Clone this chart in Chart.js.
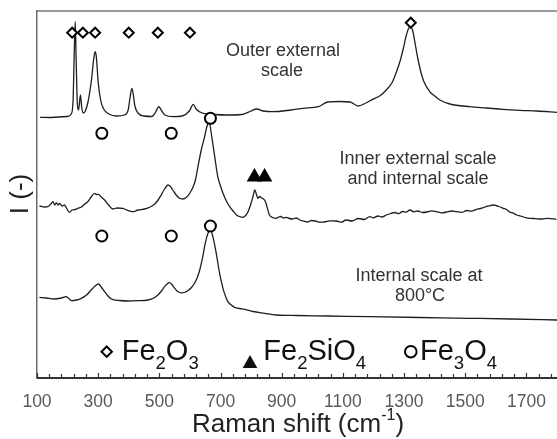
<!DOCTYPE html>
<html>
<head>
<meta charset="utf-8">
<script src="https://cdn.jsdelivr.net/npm/chart.js@4.4.0/dist/chart.umd.min.js"></script>
<style>
  body { margin: 0; background: #fff; }
  .wrap { position: relative; width: 557px; height: 439px; }
</style>
</head>
<body>
<div class="wrap"><canvas id="raman"></canvas></div>
<script>
"use strict";

// x tick labels (cm-1)
const xTicks = [100, 300, 500, 700, 900, 1100, 1300, 1500, 1700];

// Outer external scale
const outerShift = [110,140,170,200,212,218,222,225,228,232,236,242,246,251,258,268,278,285,290,294,300,308,318,335,360,385,398,404,410,414,420,430,450,475,488,498,506,518,545,575,598,611,620,640,680,720,770,800,818,840,870,930,970,1020,1050,1090,1124,1150,1175,1197,1220,1242,1262,1275,1288,1298,1306,1314,1322,1330,1337,1346,1355,1364,1384,1400,1417,1450,1515,1570,1623,1680,1734,1800];
const outerInt = [260.7,260.5,261,261.5,264,278,328,356.3,318,274,268,283,271,265,267,278,298,318,326.3,321,296,278,269,264,262,263,268,280,289.7,285,272,265,262,261.5,266,271.3,268,263,261.3,262,267,273.7,269,265,263.5,263,263.5,267,269,267,266.3,268,269.7,271.3,276,276.5,276,272,275,278.7,282,288,296,306,318,330,341,349,351.5,345,333,318,306,297,286.3,282,278,274,271.3,270,268.7,267.7,267,265.7];

// Inner external scale and internal scale
const innerShift = [108,125,135,145,152,158,163,169,174,182,190,198,206,215,225,233,245,256,266,277,288,295,301,310,321,334,348,362,381,397,413,430,452,470,484,496,506,517,528,536,544,555,566,577,588,600,610,618,626,637,648,655,660,663,670,681,691,700,708,719,730,741,752,762,773,782,790,798,806,812,817,822,828,833,840,847,853,860,870,882,890,897,906,915,925,935,947,959,972,985,997,1010,1025,1040,1058,1079,1095,1110,1130,1150,1170,1188,1200,1215,1228,1242,1256,1270,1283,1295,1307,1319,1332,1345,1360,1375,1390,1406,1423,1440,1455,1471,1488,1505,1520,1537,1550,1565,1578,1591,1600,1610,1624,1635,1645,1657,1668,1680,1690,1700,1711,1730,1750,1770,1798];
const innerInt = [172,171,171.3,174,176.3,173,175,173,174.7,172,173,169,165.7,168,168.5,169.7,171,174,176.3,181,184.7,183.5,183.7,181,178,173,169,170,169.7,167.5,166.3,168,169,171,173.7,178,183,189,193,191.5,188,183,179.7,179,180.5,185,191,198,211,228,241.3,251,255,256,244,221.3,201.3,192,184.7,177,171.3,167,163,161.5,160.7,162.5,166.3,173,181.3,188,184,179.7,181.5,180.3,179,176.3,170,163,160.5,159.7,161,161.5,160,160.7,159.5,159,160,158,156.8,156,157.5,157,155.8,156,157.2,157,155.8,158,157,159.5,158.5,161.3,160.2,162,161,163,164.5,165.5,164.3,166.5,165.8,168,166.2,167,165.5,166,167.2,166.3,165.2,166,167,166.3,165.6,167.5,166.8,168.7,169.5,171,172.2,173,172.5,171.5,169.7,168.5,166,164.8,163,162,161,160.2,159.7,159.4,159,159.6,158.7];

// Internal scale at 800°C
const int800Shift = [108,130,157,180,195,204,214,230,245,262,277,290,301,311,321,332,343,370,397,430,463,482,495,507,517,527,533,541,550,560,572,582,593,605,615,624,632,642,650,659,667,675,686,697,708,716,724,735,746,762,779,806,844,882,950,1050,1188,1350,1515,1650,1800];
const int800Int = [80.7,80,79,80,81.3,79.5,77.3,78,79.7,83,88,92,94,90.5,86.3,82,79,77.5,77,77.3,78,80,83,87,91.3,94.5,95.3,93.5,89.7,86.5,85.2,85.5,87.3,90.5,94.7,100.5,108,121.3,134.7,144.7,148.5,141.3,124.7,104.7,89.7,82,76.3,73,70.7,69.5,68.7,66.5,64.7,63,62.5,62,61.3,60.5,59.7,59,58];

// phase markers
const hematiteShift = [215, 250, 290, 400, 495, 600, 1322];
const hematiteInt = [345.3, 345.3, 345.3, 345.3, 345.3, 345.3, 355.3];
const fayaliteShift = [811, 844];
const fayaliteInt = [201, 201];
const magnetiteShift = [312, 539, 667, 312, 539, 667];
const magnetiteInt = [244.7, 244.7, 259.7, 142, 142, 152];

const toPts = (xs, ys) => xs.map((x, i) => ({ x: x, y: ys[i] }));

const FONT = "'Liberation Sans', Arial, sans-serif";

function traceSet(xs, ys) {
  return {
    data: toPts(xs, ys),
    showLine: true,
    borderColor: "#1e1e1e",
    borderWidth: 1.3,
    pointRadius: 0,
    cubicInterpolationMode: "monotone",
    order: 2,
  };
}

function markerSet(xs, ys, style, radius, fill) {
  return {
    data: toPts(xs, ys),
    showLine: false,
    pointStyle: style,
    pointRadius: radius,
    pointBackgroundColor: fill,
    pointBorderColor: "#000",
    pointBorderWidth: 2,
    order: 1,
  };
}

// writes a formula like Fe2O3 with subscripts, returns end x
function drawFormula(ctx, x, y, parts, size) {
  parts.forEach((p) => {
    if (p.sub) {
      ctx.font = (size * 0.64) + "px " + FONT;
      ctx.fillText(p.t, x, y + size * 0.3);
    } else {
      ctx.font = size + "px " + FONT;
      ctx.fillText(p.t, x, y);
    }
    x += ctx.measureText(p.t).width;
  });
  return x;
}

const decor = {
  id: "decor",
  afterDatasetsDraw(chart) {
    const ctx = chart.ctx;
    const a = chart.chartArea;
    const xs = chart.scales.x;
    ctx.save();

    // top frame line
    ctx.strokeStyle = "#7a7a7a";
    ctx.lineWidth = 1.5;
    ctx.beginPath();
    ctx.moveTo(a.left, a.top);
    ctx.lineTo(a.right, a.top);
    ctx.stroke();

    // inward ticks on the bottom axis
    ctx.strokeStyle = "#333";
    ctx.lineWidth = 1.2;
    for (let v = 100; v <= 1800; v += 40) {
      const px = Math.round(xs.getPixelForValue(v)) + 0.5;
      const len = (v - 100) % 200 === 0 ? 5 : 4;
      ctx.beginPath();
      ctx.moveTo(px, a.bottom);
      ctx.lineTo(px, a.bottom - len);
      ctx.stroke();
    }

    // trace labels
    ctx.fillStyle = "#333";
    ctx.font = "18px " + FONT;
    ctx.textAlign = "center";
    ctx.textBaseline = "middle";
    ctx.fillText("Outer external", 283, 51);
    ctx.fillText("scale", 282, 71);
    ctx.fillText("Inner external scale", 418, 159);
    ctx.fillText("and internal scale", 418, 179);
    ctx.fillText("Internal scale at", 419, 276);
    ctx.fillText("800°C", 420, 296);

    // legend row
    ctx.textAlign = "left";
    ctx.textBaseline = "alphabetic";
    ctx.fillStyle = "#111";
    const base = 360;

    ctx.strokeStyle = "#000";
    ctx.lineWidth = 2;
    ctx.beginPath();
    ctx.moveTo(106.7, 346.5);
    ctx.lineTo(111.9, 351.7);
    ctx.lineTo(106.7, 356.9);
    ctx.lineTo(101.5, 351.7);
    ctx.closePath();
    ctx.stroke();
    drawFormula(ctx, 121.7, base, [{ t: "Fe" }, { t: "2", sub: true }, { t: "O" }, { t: "3", sub: true }], 29);

    ctx.beginPath();
    ctx.moveTo(250, 355);
    ctx.lineTo(257.3, 368);
    ctx.lineTo(242.7, 368);
    ctx.closePath();
    ctx.fill();
    drawFormula(ctx, 263.3, base, [{ t: "Fe" }, { t: "2", sub: true }, { t: "SiO" }, { t: "4", sub: true }], 29);

    ctx.beginPath();
    ctx.arc(410.8, 351.7, 5.8, 0, Math.PI * 2);
    ctx.stroke();
    drawFormula(ctx, 420, base, [{ t: "Fe" }, { t: "3", sub: true }, { t: "O" }, { t: "4", sub: true }], 29);

    // x axis title with superscript
    ctx.fillStyle = "#222";
    const big = "26px " + FONT;
    const small = "16px " + FONT;
    ctx.font = big;
    const t1 = "Raman shift (cm";
    const w1 = ctx.measureText(t1).width;
    ctx.font = small;
    const wSup = ctx.measureText("-1").width;
    ctx.font = big;
    const wEnd = ctx.measureText(")").width;
    let tx = 298 - (w1 + wSup + wEnd) / 2;
    ctx.fillText(t1, tx, 432);
    tx += w1;
    ctx.font = small;
    ctx.fillText("-1", tx, 420);
    tx += wSup;
    ctx.font = big;
    ctx.fillText(")", tx, 432);

    // y axis title
    ctx.save();
    ctx.translate(21, 194);
    ctx.rotate(-Math.PI / 2);
    ctx.textAlign = "center";
    ctx.textBaseline = "middle";
    ctx.font = "26px " + FONT;
    ctx.fillText("I (-)", 0, 0);
    ctx.restore();

    ctx.restore();
  },
};

const ctxRaman = document.getElementById("raman");

new Chart(ctxRaman, {
  type: "scatter",
  data: {
    datasets: [
      traceSet(outerShift, outerInt),
      traceSet(innerShift, innerInt),
      traceSet(int800Shift, int800Int),
      markerSet(hematiteShift, hematiteInt, "rectRot", 5, "#fff"),
      markerSet(fayaliteShift, fayaliteInt, "triangle", 7, "#000"),
      markerSet(magnetiteShift, magnetiteInt, "circle", 5.5, "#fff"),
    ],
  },
  options: {
    responsive: true,
    maintainAspectRatio: false,
    animation: false,
    layout: { autoPadding: false, padding: { top: 11, left: 0, right: 0, bottom: 0 } },
    plugins: {
      legend: { display: false },
      tooltip: { enabled: false },
    },
    scales: {
      x: {
        type: "linear",
        min: 100,
        max: 1800,
        // tick marks are drawn by the plugin, tickLength only spaces the labels
        grid: { display: false, drawTicks: true, tickLength: 14 },
        border: { display: true, color: "#333", width: 2 },
        ticks: {
          color: "#595959",
          font: { family: FONT, size: 17.5 },
          padding: 0,
          maxRotation: 0,
          callback: (v) => String(v),
        },
        afterBuildTicks: (axis) => {
          axis.ticks = xTicks.map((v) => ({ value: v }));
        },
        afterFit: (axis) => {
          axis.height = 61;
          axis.paddingLeft = 0;
          axis.paddingRight = 0;
        },
      },
      y: {
        min: 0,
        max: 367,
        grid: { display: false, drawTicks: false },
        border: { display: true, color: "#6a6a6a", width: 1.5 },
        ticks: { display: false },
        afterFit: (axis) => {
          axis.width = 37;
        },
      },
    },
  },
  plugins: [decor],
});
</script>
</body>
</html>
